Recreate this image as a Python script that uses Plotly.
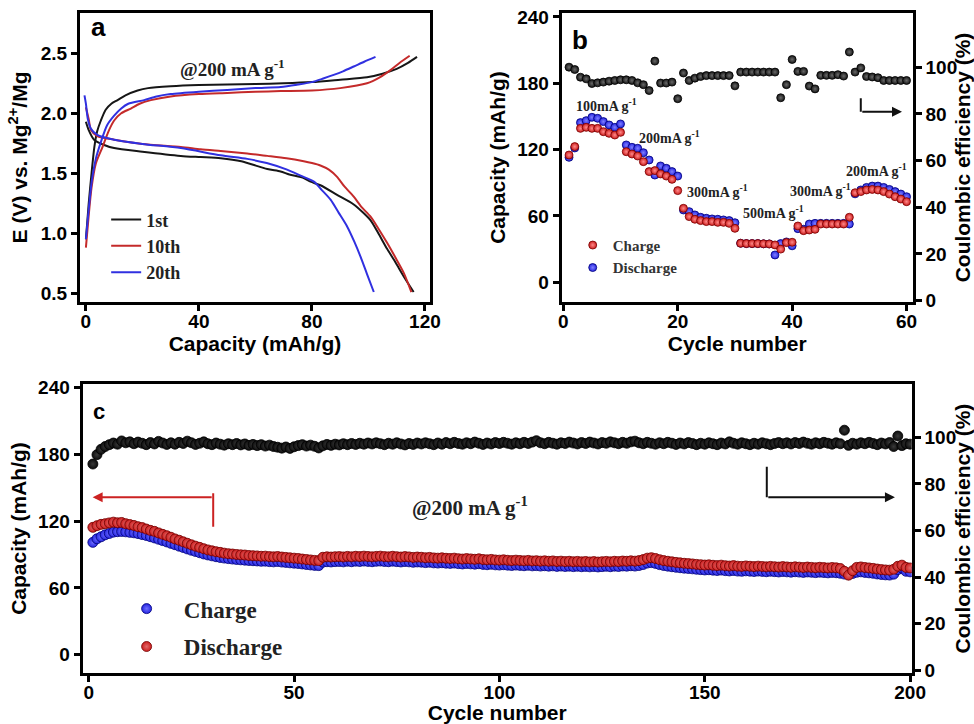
import plotly.graph_objects as go

# ---------------- Panel a : voltage profiles ----------------
a1_chg_cap = [0, 1, 2, 3, 4, 5.3, 7, 9, 11.2, 14, 18.3, 22, 30, 40, 50, 60, 70, 80, 90, 99.5, 105, 110, 114, 117.2]
a1_chg_v = [0.95, 1.25, 1.5, 1.72, 1.85, 1.94, 2.03, 2.08, 2.11, 2.15, 2.19, 2.21, 2.225, 2.235, 2.24, 2.245, 2.25, 2.26, 2.28, 2.30, 2.33, 2.37, 2.42, 2.47]
a10_chg_cap = [0, 1, 2, 3.5, 5.9, 8, 10, 12.5, 15.9, 19, 23, 30, 40, 50, 60, 68.9, 80, 90, 99.5, 104, 107.8, 111, 114.6]
a10_chg_v = [0.88, 1.15, 1.38, 1.58, 1.72, 1.85, 1.94, 2.0, 2.04, 2.08, 2.11, 2.14, 2.16, 2.17, 2.18, 2.185, 2.19, 2.21, 2.25, 2.30, 2.36, 2.42, 2.48]
a20_chg_cap = [0, 1, 2, 3.5, 5.3, 7.5, 10, 12.5, 15, 20.6, 25, 30, 40, 50, 60, 69, 75, 80, 84, 87.7, 91, 94.8, 98.5, 102.5]
a20_chg_v = [0.95, 1.2, 1.42, 1.62, 1.76, 1.9, 1.98, 2.04, 2.08, 2.11, 2.14, 2.16, 2.18, 2.195, 2.21, 2.22, 2.24, 2.26, 2.29, 2.32, 2.35, 2.39, 2.43, 2.47]

a1_dis_cap = [0, 1, 2.9, 6, 10, 20, 33.6, 40.6, 47.7, 55, 64.2, 68.9, 72, 77.1, 79.5, 83, 88.9, 94.8, 100.7, 103.5, 106.6, 109.5, 112.5, 116]
a1_dis_v = [1.93, 1.86, 1.78, 1.74, 1.71, 1.68, 1.645, 1.635, 1.625, 1.60, 1.535, 1.515, 1.49, 1.46, 1.43, 1.40, 1.32, 1.24, 1.11, 1.00, 0.87, 0.76, 0.64, 0.51]
a10_dis_cap = [0, 1, 1.8, 4, 10, 20, 33.6, 40.6, 47.7, 57.1, 64.2, 71, 77.1, 80, 83, 86, 88.9, 91.5, 94.8, 97.5, 100.7, 103.5, 106.6, 109.5, 112.5, 115.2]
a10_dis_v = [2.05, 1.95, 1.86, 1.81, 1.78, 1.745, 1.72, 1.70, 1.685, 1.665, 1.645, 1.625, 1.60, 1.585, 1.565, 1.53, 1.47, 1.39, 1.305, 1.22, 1.14, 1.04, 0.92, 0.80, 0.67, 0.51]
a20_dis_cap = [-0.5, 0, 0.7, 1.8, 4, 10, 20, 33.6, 47.7, 57.1, 64, 71.2, 76, 80.7, 83.5, 86.6, 89.5, 92.5, 95, 97.2, 99.5, 101.9]
a20_dis_v = [2.15, 2.08, 1.95, 1.87, 1.82, 1.78, 1.745, 1.71, 1.65, 1.62, 1.585, 1.53, 1.48, 1.43, 1.36, 1.28, 1.17, 1.055, 0.93, 0.805, 0.66, 0.51]

a_names = ["1st", "10th", "20th"]

# ---------------- Panel b : rate capability ----------------
b_cycle = list(range(1, 61))
b_charge = [115.1, 122.7, 139.2, 140.1, 139.2, 139.2, 136.2, 134.7, 133.2, 135.6,
            118.1, 116.0, 114.2, 109.1, 100.1, 101.0, 98.0, 96.1, 93.1, 82.9,
            66.9, 59.4, 57.0, 55.8, 54.9, 54.9, 54.2, 54.2, 53.3, 48.8,
            35.3, 35.0, 35.0, 35.0, 34.8, 34.7, 33.8, 30.0, 35.9, 36.2,
            50.9, 46.7, 47.3, 47.9, 52.7, 52.7, 52.7, 52.7, 52.7, 58.8,
            81.0, 82.0, 83.5, 84.0, 83.5, 82.0, 79.8, 77.4, 75.3, 72.9]
b_discharge = [113.0, 121.5, 144.4, 146.2, 149.2, 148.3, 145.3, 142.3, 140.1, 143.2,
               124.2, 122.1, 121.2, 117.2, 110.6, 97.0, 105.2, 103.1, 100.1, 96.1,
               65.4, 63.9, 60.9, 58.8, 57.9, 57.3, 57.0, 56.4, 55.8, 53.9,
               35.3, 35.0, 35.0, 35.0, 34.8, 34.7, 24.7, 35.0, 36.5, 33.0,
               48.5, 48.0, 52.7, 53.3, 53.3, 53.3, 53.3, 53.3, 53.3, 52.7,
               80.0, 83.5, 85.8, 87.0, 87.0, 85.8, 84.0, 82.0, 79.8, 77.4]
b_ce = [100.0, 99.0, 95.7, 95.0, 93.0, 93.3, 93.6, 94.0, 94.3, 94.6,
        94.6, 94.3, 93.3, 92.5, 90.0, 102.6, 93.2, 93.2, 93.6, 86.5,
        97.5, 94.3, 95.3, 96.0, 96.4, 96.4, 96.4, 96.4, 96.4, 92.0,
        97.9, 97.9, 97.9, 97.9, 97.9, 97.9, 97.9, 86.9, 92.5, 103.3,
        98.2, 98.2, 91.9, 90.7, 96.5, 96.5, 96.5, 96.8, 96.2, 106.5,
        97.9, 99.7, 96.0, 95.8, 95.5, 94.3, 94.3, 94.3, 94.3, 94.3]
b_rates = ["100mA g<sup>-1</sup>", "200mA g<sup>-1</sup>", "300mA g<sup>-1</sup>",
           "500mA g<sup>-1</sup>", "300mA g<sup>-1</sup>", "200mA g<sup>-1</sup>"]

# ---------------- Panel c : long cycling ----------------
c_cycle = list(range(1, 201))
c_discharge = [114.5, 116.0, 117.2, 117.8, 118.5, 119.2, 118.6, 118.9, 117.8, 117.0,
               116.2, 115.1, 114.3, 113.0, 111.8, 110.9, 109.5, 108.2, 107.0, 105.6,
               104.1, 102.9, 101.5, 100.2, 98.8, 97.6, 96.5, 95.3, 94.2, 93.4,
               92.6, 92.0, 91.3, 90.8, 90.5, 90.1, 89.8, 89.6, 89.2, 89.0,
               88.8, 88.5, 88.6, 88.2, 88.0, 88.3, 87.8, 87.5, 87.1, 86.8,
               86.5, 86.0, 85.6, 85.2, 84.8, 84.6, 87.6, 88.0, 87.8, 88.1,
               88.2, 87.9, 88.4, 88.0, 88.5, 88.2, 88.6, 88.3, 88.0, 88.4,
               88.6, 88.2, 88.0, 88.5, 88.1, 87.8, 88.2, 87.9, 87.5, 87.8,
               87.6, 87.2, 87.5, 87.0, 86.8, 87.1, 86.7, 86.5, 86.8, 86.3,
               86.0, 86.4, 86.1, 85.8, 86.2, 85.6, 85.3, 85.7, 85.2, 85.0,
               85.3, 84.9, 84.6, 85.0, 84.7, 84.4, 84.8, 84.3, 84.5, 84.1,
               84.4, 84.0, 84.3, 83.8, 84.1, 83.7, 84.0, 83.6, 83.9, 83.5,
               83.8, 83.4, 83.7, 83.3, 83.6, 83.9, 83.5, 84.0, 83.7, 84.2,
               84.0, 84.4, 84.1, 84.6, 85.5, 86.8, 87.2, 86.5, 85.4, 84.6,
               84.0, 83.5, 83.0, 82.6, 82.2, 81.9, 81.6, 81.2, 80.9, 80.6,
               80.8, 80.4, 80.1, 80.5, 80.0, 79.7, 80.1, 79.6, 79.4, 79.8,
               79.5, 79.2, 79.6, 79.3, 79.0, 79.4, 79.1, 78.8, 79.2, 78.9,
               78.6, 79.0, 78.7, 78.4, 78.8, 78.5, 78.2, 78.6, 78.3, 78.0,
               78.4, 78.1, 77.5, 75.0, 71.5, 75.5, 78.5, 78.9, 78.4, 78.0,
               77.6, 77.0, 76.5, 76.2, 76.0, 76.8, 79.5, 80.5, 78.5, 78.0]
c_charge = [101.0, 104.2, 106.0, 107.8, 109.0, 110.2, 110.6, 110.8, 110.5, 110.0,
            109.6, 108.9, 108.0, 107.2, 106.1, 105.0, 103.8, 102.6, 101.4, 100.1,
            98.9, 97.6, 96.4, 95.1, 93.9, 92.8, 91.7, 90.6, 89.7, 88.9,
            88.1, 87.4, 86.9, 86.4, 86.0, 85.6, 85.3, 85.0, 84.7, 84.5,
            84.3, 84.0, 84.1, 83.7, 83.5, 83.8, 83.3, 83.0, 82.6, 82.3,
            82.0, 81.6, 81.1, 80.7, 80.3, 80.1, 83.2, 83.6, 83.4, 83.7,
            83.8, 83.5, 84.0, 83.6, 84.1, 83.8, 84.2, 83.9, 83.6, 84.0,
            84.2, 83.8, 83.6, 84.1, 83.7, 83.4, 83.8, 83.5, 83.1, 83.4,
            83.2, 82.8, 83.1, 82.6, 82.4, 82.7, 82.3, 82.1, 82.4, 81.9,
            81.6, 82.0, 81.7, 81.4, 81.8, 81.2, 80.9, 81.3, 80.8, 80.6,
            80.9, 80.5, 80.2, 80.6, 80.3, 80.0, 80.4, 79.9, 80.1, 79.7,
            80.0, 79.6, 79.9, 79.4, 79.7, 79.3, 79.6, 79.2, 79.5, 79.1,
            79.4, 79.0, 79.3, 78.9, 79.2, 79.5, 79.1, 79.6, 79.3, 79.8,
            79.6, 80.0, 79.7, 80.2, 81.1, 82.4, 82.8, 82.1, 81.0, 80.2,
            79.6, 79.1, 78.6, 78.2, 77.8, 77.5, 77.2, 76.8, 76.5, 76.2,
            76.4, 76.0, 75.7, 76.1, 75.6, 75.3, 75.7, 75.2, 75.0, 75.4,
            75.1, 74.8, 75.2, 74.9, 74.6, 75.0, 74.7, 74.4, 74.8, 74.5,
            74.2, 74.6, 74.3, 74.0, 74.4, 74.1, 73.8, 74.2, 73.9, 73.6,
            74.0, 73.7, 73.2, 72.5, 72.0, 73.0, 74.1, 74.5, 74.0, 73.6,
            73.2, 72.6, 72.1, 71.8, 71.6, 72.4, 76.5, 77.8, 75.0, 74.5]
c_ce = [88.5, 92.5, 94.8, 96.0, 96.8, 97.5, 97.0, 98.4, 97.6, 98.0,
        97.2, 97.9, 97.4, 96.8, 97.7, 97.1, 98.2, 97.5, 96.9, 97.6,
        97.0, 97.8, 97.3, 98.3, 97.6, 96.9, 97.4, 98.0, 97.2, 96.8,
        97.5, 97.0, 96.6, 97.2, 96.8, 97.3, 96.7, 97.1, 96.5, 96.9,
        96.4, 96.8, 96.2, 96.6, 96.0, 95.7, 95.3, 95.8, 95.2, 95.9,
        96.4, 96.8, 96.2, 96.6, 96.1, 95.4, 96.3, 96.9, 96.5, 97.0,
        96.7, 97.2, 96.8, 97.3, 96.9, 97.4, 97.0, 97.5, 97.1, 97.6,
        97.2, 96.8, 97.4, 97.0, 97.6, 97.1, 96.7, 97.3, 96.9, 97.5,
        97.1, 97.6, 97.2, 96.8, 97.5, 97.0, 97.7, 97.2, 97.8, 97.3,
        97.0, 97.6, 97.2, 97.9, 97.4, 96.9, 97.5, 97.1, 97.7, 97.3,
        97.8, 97.4, 97.0, 97.6, 97.2, 97.8, 97.3, 97.9, 98.5, 97.6,
        97.2, 97.8, 97.4, 97.0, 97.6, 97.3, 97.9, 97.5, 97.1, 97.7,
        97.3, 97.9, 97.5, 97.1, 97.7, 97.4, 98.0, 97.6, 97.2, 97.8,
        97.4, 98.0, 98.3, 97.6, 97.2, 97.8, 97.4, 97.0, 97.6, 97.2,
        97.8, 97.4, 96.9, 97.5, 97.1, 97.7, 97.3, 96.8, 97.4, 97.0,
        97.6, 97.2, 96.8, 97.5, 97.1, 98.0, 97.4, 97.0, 97.6, 97.2,
        96.8, 97.4, 97.0, 97.6, 97.2, 96.8, 97.3, 97.7, 97.2, 97.6,
        97.1, 97.7, 97.3, 97.9, 97.4, 97.0, 97.6, 97.2, 97.8, 97.4,
        97.0, 97.6, 97.2, 103.0, 96.5, 97.4, 97.0, 97.6, 97.2, 97.8,
        97.3, 96.8, 97.5, 97.1, 97.7, 96.0, 100.5, 96.4, 97.2, 97.0]

# ---------------- styling ----------------
BLACK = "#161616"
RED = "#cc1c1c"
BLUE = "#2525e0"
SANS = "Liberation Sans"
SERIF = "Liberation Serif"

fig = go.Figure()

a_curves = [
    (a1_chg_cap, a1_chg_v, a1_dis_cap, a1_dis_v, BLACK),
    (a10_chg_cap, a10_chg_v, a10_dis_cap, a10_dis_v, "#c42a2a"),
    (a20_chg_cap, a20_chg_v, a20_dis_cap, a20_dis_v, "#3030e0"),
]
for name, (cx, cy, dx, dy, col) in zip(a_names, a_curves):
    fig.add_trace(go.Scatter(x=cx, y=cy, mode="lines", name=name, legendgroup=name,
                             line=dict(color=col, width=2, shape="spline", smoothing=0.7),
                             xaxis="x", yaxis="y", legend="legend"))
    fig.add_trace(go.Scatter(x=dx, y=dy, mode="lines", name=name, legendgroup=name, showlegend=False,
                             line=dict(color=col, width=2, shape="spline", smoothing=0.7),
                             xaxis="x", yaxis="y", legend="legend"))


def sphere(color, edge, light, size):
    return dict(color=color, size=size, line=dict(color=edge, width=0.8),
                gradient=dict(type="radial", color=light))


fig.add_trace(go.Scatter(x=b_cycle, y=b_ce, mode="markers", showlegend=False,
                         marker=sphere("#141414", "#000000", "#6a6a6a", 8),
                         xaxis="x2", yaxis="y3"))
fig.add_trace(go.Scatter(x=b_cycle, y=b_discharge, mode="markers", name="Discharge", legendrank=2,
                         marker=sphere(BLUE, "#00007a", "#8080ff", 8),
                         xaxis="x2", yaxis="y2", legend="legend2"))
fig.add_trace(go.Scatter(x=b_cycle, y=b_charge, mode="markers", name="Charge", legendrank=1,
                         marker=sphere(RED, "#7a0000", "#ff8a8a", 8),
                         xaxis="x2", yaxis="y2", legend="legend2"))

fig.add_trace(go.Scatter(x=c_cycle, y=c_ce, mode="markers", showlegend=False,
                         marker=sphere("#0c0c0c", "#000000", "#3a3a3a", 10),
                         xaxis="x3", yaxis="y5"))
fig.add_trace(go.Scatter(x=c_cycle, y=c_charge, mode="markers", name="\u00a0\u00a0\u00a0Charge",
                         legendgroup="cc",
                         marker=sphere(BLUE, "#00007a", "#7070ff", 10),
                         xaxis="x3", yaxis="y4", legend="legend3"))
fig.add_trace(go.Scatter(x=c_cycle, y=c_discharge, mode="markers", name="\u00a0\u00a0\u00a0Discharge",
                         legendgroup="cd",
                         marker=sphere(RED, "#700000", "#e06a6a", 10),
                         xaxis="x3", yaxis="y4", legend="legend3"))

axis_common = dict(showline=True, linecolor="black", linewidth=3, ticks="outside", ticklen=6,
                   tickwidth=2.5, tickcolor="black", showgrid=False, zeroline=False, automargin=False,
                   tickfont=dict(family=SANS, size=19, color="black", weight="bold"))
x_common = dict(axis_common, ticklabelstandoff=-6)
title_font = dict(family=SANS, size=21, color="black", weight="bold")

top_dom = [0.5829, 0.9820]
bot_dom = [0.0704, 0.4696]

fig.update_layout(
    width=974, height=724, margin=dict(l=0, r=0, t=0, b=0, autoexpand=False),
    paper_bgcolor="white", plot_bgcolor="white", showlegend=True,
    xaxis=dict(domain=[0.0821, 0.4415], anchor="y", range=[-2.1, 121.8], tickvals=[0, 40, 80, 120],
               mirror=True, title=dict(text="Capacity (mAh/g)", font=title_font, standoff=4), **x_common),
    yaxis=dict(domain=top_dom, anchor="x", range=[0.427, 2.836], tickvals=[0.5, 1.0, 1.5, 2.0, 2.5],
               tickformat=".1f", mirror=True,
               title=dict(text="E (V) vs. Mg<sup>2+</sup>/Mg", font=title_font, standoff=8), **axis_common),
    xaxis2=dict(domain=[0.5767, 0.9371], anchor="y2", range=[-0.28, 61.08], tickvals=[0, 20, 40, 60],
                mirror=True, title=dict(text="Cycle number", font=title_font, standoff=4), **x_common),
    yaxis2=dict(domain=top_dom, anchor="x2", range=[-17.8, 243.5], tickvals=[0, 60, 120, 180, 240],
                title=dict(text="Capacity (mAh/g)", font=title_font, standoff=6), **axis_common),
    yaxis3=dict(domain=top_dom, anchor="x2", overlaying="y2", side="right", range=[-0.6, 123.2],
                tickvals=[0, 20, 40, 60, 80, 100],
                title=dict(text="Coulombic efficiency (%)", font=title_font, standoff=4), **axis_common),
    xaxis3=dict(domain=[0.0848, 0.9361], anchor="y4", range=[-1.5, 200.4], tickvals=[0, 50, 100, 150, 200],
                mirror=True, title=dict(text="Cycle number", font=title_font, standoff=2), **x_common),
    yaxis4=dict(domain=bot_dom, anchor="x3", range=[-16.5, 243.4], tickvals=[0, 60, 120, 180, 240],
                title=dict(text="Capacity (mAh/g)", font=title_font, standoff=6), **axis_common),
    yaxis5=dict(domain=bot_dom, anchor="x3", overlaying="y4", side="right", range=[-1.1, 122.8],
                tickvals=[0, 20, 40, 60, 80, 100],
                title=dict(text="Coulombic efficiency (%)", font=title_font, standoff=4), **axis_common),
    legend=dict(x=0.109, y=0.722, xanchor="left", yanchor="top", bgcolor="rgba(0,0,0,0)",
                font=dict(family=SERIF, size=18, color="#222", weight="bold"), tracegroupgap=0),
    legend2=dict(x=0.588, y=0.684, xanchor="left", yanchor="top", bgcolor="rgba(0,0,0,0)",
                 font=dict(family=SERIF, size=15, color="#333", weight="bold")),
    legend3=dict(x=0.130, y=0.189, xanchor="left", yanchor="top", bgcolor="rgba(0,0,0,0)",
                 font=dict(family=SERIF, size=23, color="#222", weight="bold"), tracegroupgap=5,
                 itemsizing="trace"),
)

ann_serif = dict(family=SERIF, color="#222", weight="bold")
annotations = [
    dict(text="a", x=4.6, y=2.72, xref="x", yref="y", showarrow=False,
         font=dict(family=SANS, size=26, color="black", weight="bold")),
    dict(text="@200 mA g<sup>-1</sup>", x=52, y=2.378, xref="x", yref="y", showarrow=False,
         font=dict(size=19, **ann_serif)),
    dict(text="b", x=2.9, y=219, xref="x2", yref="y2", showarrow=False,
         font=dict(family=SANS, size=26, color="black", weight="bold")),
    dict(text="c", x=2.5, y=218.5, xref="x3", yref="y4", showarrow=False,
         font=dict(family=SANS, size=22, color="black", weight="bold")),
    dict(text="@200 mA g<sup>-1</sup>", x=92.8, y=133.1, xref="x3", yref="y4", showarrow=False,
         font=dict(size=21, **ann_serif)),
]
rate_pos = [(7.5, 160.3), (18.5, 131.4), (26.9, 82.6), (36.7, 63.6), (44.9, 83.5), (54.8, 101.5)]
for txt, (rx, ry) in zip(b_rates, rate_pos):
    annotations.append(dict(text=txt, x=rx, y=ry, xref="x2", yref="y2", showarrow=False,
                            font=dict(size=14, **ann_serif)))
annotations += [
    dict(x=59.2, y=154.2, ax=52.0, ay=154.2, xref="x2", yref="y2", axref="x2", ayref="y2",
         showarrow=True, arrowhead=2, arrowsize=1, arrowwidth=2, arrowcolor="#111", text=""),
    dict(x=0.95, y=141.5, ax=30.3, ay=141.5, xref="x3", yref="y4", axref="x3", ayref="y4",
         showarrow=True, arrowhead=2, arrowsize=1, arrowwidth=2, arrowcolor="#cc2222", text=""),
    dict(x=196.3, y=141.5, ax=165.1, ay=141.5, xref="x3", yref="y4", axref="x3", ayref="y4",
         showarrow=True, arrowhead=2, arrowsize=1, arrowwidth=2, arrowcolor="#111", text=""),
]
fig.update_layout(annotations=annotations)
fig.update_layout(shapes=[
    dict(type="line", x0=52.0, x1=52.0, y0=166.4, y1=154.2, xref="x2", yref="y2",
         line=dict(color="#111", width=2)),
    dict(type="line", x0=30.3, x1=30.3, y0=145.1, y1=115.1, xref="x3", yref="y4",
         line=dict(color="#cc2222", width=2)),
    dict(type="line", x0=165.1, x1=165.1, y0=169.1, y1=141.5, xref="x3", yref="y4",
         line=dict(color="#111", width=2)),
])

fig.write_html("out.html")
